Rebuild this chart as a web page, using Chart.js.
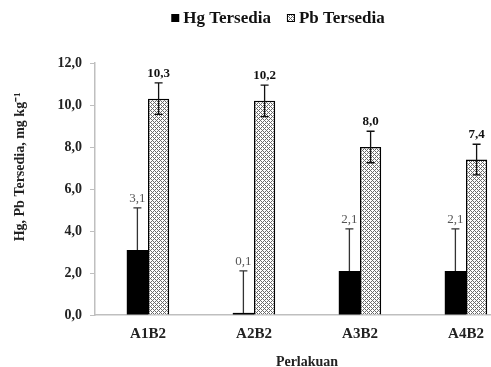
<!DOCTYPE html>
<html>
<head>
<meta charset="utf-8">
<script src="https://cdn.jsdelivr.net/npm/chart.js@4.4.0/dist/chart.umd.min.js"></script>
<style>
  html, body { margin: 0; padding: 0; background: #fff; overflow: hidden; }
  #wrap { width: 530px; height: 375px; }
</style>
</head>
<body>
<div id="wrap"><canvas id="hgPbChart" width="530" height="375"></canvas></div>
<script>
const categories = ['A1B2', 'A2B2', 'A3B2', 'A4B2'];
const seriesNames = ['Hg Tersedia', 'Pb Tersedia'];
const hgValues = [3.1, 0.1, 2.1, 2.1];
const pbValues = [10.3, 10.2, 8.0, 7.4];
const hgErrors = [2.0, 2.0, 2.0, 2.0];
const pbErrors = [0.75, 0.75, 0.75, 0.73];
const yTicks = [0, 2, 4, 6, 8, 10, 12];
const yTitle = 'Hg, Pb Tersedia, mg kg\u207B\u00B9';

const SERIF = '"Liberation Serif", "Times New Roman", serif';
const fmt = v => v.toFixed(1).replace('.', ',');

// crosshatch fill for the Pb bars
function makePattern() {
  const c = document.createElement('canvas');
  c.width = 4; c.height = 4;
  const p = c.getContext('2d');
  p.fillStyle = '#fff';
  p.fillRect(0, 0, 4, 4);
  p.fillStyle = '#6a6a6a';
  for (let x = 0; x < 4; x++) {
    for (let y = 0; y < 4; y++) {
      if ((x + y) % 4 === 0 || (x - y + 4) % 4 === 0) p.fillRect(x, y, 1, 1);
    }
  }
  return p.createPattern(c, 'repeat');
}
const pbPattern = makePattern();

// error bars (Hg upper only, Pb both ways) plus value labels
const errorBars = {
  id: 'errorBars',
  afterDatasetsDraw(chart) {
    const ctx = chart.ctx;
    const yScale = chart.scales.y;
    const sets = [
      { vals: hgValues, errs: hgErrors, both: false, font: '13px ' + SERIF, color: '#555' },
      { vals: pbValues, errs: pbErrors, both: true, font: 'bold 13px ' + SERIF, color: '#111' }
    ];
    sets.forEach((s, i) => {
      const meta = chart.getDatasetMeta(i);
      meta.data.forEach((bar, j) => {
        const x = bar.x;
        const top = yScale.getPixelForValue(s.vals[j] + s.errs[j]);
        const bottom = s.both ? yScale.getPixelForValue(s.vals[j] - s.errs[j]) : bar.y;
        ctx.save();
        ctx.strokeStyle = s.both ? '#111' : '#333';
        ctx.lineWidth = 1.3;
        ctx.beginPath();
        ctx.moveTo(x, bottom); ctx.lineTo(x, top);
        ctx.moveTo(x - 4, top); ctx.lineTo(x + 4, top);
        if (s.both) { ctx.moveTo(x - 4, bottom); ctx.lineTo(x + 4, bottom); }
        ctx.stroke();
        ctx.font = s.font;
        ctx.fillStyle = s.color;
        ctx.textAlign = 'center';
        ctx.textBaseline = 'bottom';
        ctx.fillText(fmt(s.vals[j]), x, top - 3);
        ctx.restore();
      });
    });
  }
};

// legend and y title, placed where the original has them
const extras = {
  id: 'extras',
  afterDraw(chart) {
    const ctx = chart.ctx;
    ctx.save();
    ctx.font = 'bold 17px ' + SERIF;
    ctx.textBaseline = 'middle';
    const box = 8, gap = 4, spacing = 16;
    const ds = chart.data.datasets;
    let total = 0;
    ds.forEach((d, i) => { total += box + gap + ctx.measureText(d.label).width + (i ? spacing : 0); });
    let x = 278 - total / 2;
    const y = 18;
    ds.forEach((d, i) => {
      ctx.fillStyle = d.backgroundColor;
      ctx.fillRect(x, y - box / 2, box, box);
      if (d.borderWidth) {
        ctx.strokeStyle = '#000';
        ctx.lineWidth = 1;
        ctx.strokeRect(x + 0.5, y - box / 2 + 0.5, box - 1, box - 1);
      }
      x += box + gap;
      ctx.fillStyle = '#111';
      ctx.fillText(d.label, x, y + 1);
      x += ctx.measureText(d.label).width + spacing;
    });

    ctx.translate(20, 167);
    ctx.rotate(-Math.PI / 2);
    ctx.font = 'bold 14px ' + SERIF;
    ctx.textAlign = 'center';
    ctx.fillStyle = '#222';
    ctx.fillText(yTitle, 0, 0);
    ctx.restore();
  }
};

const ctx = document.getElementById('hgPbChart').getContext('2d');
const hgPbChart = new Chart(ctx, {
  type: 'bar',
  data: {
    labels: categories,
    datasets: [{
      label: seriesNames[0],
      data: hgValues,
      backgroundColor: '#000',
      borderWidth: 0
    }, {
      label: seriesNames[1],
      data: pbValues,
      backgroundColor: pbPattern,
      borderColor: '#000',
      borderWidth: 1.5
    }]
  },
  options: {
    responsive: false,
    animation: false,
    devicePixelRatio: 1,
    categoryPercentage: 0.4,
    barPercentage: 1.0,
    layout: { padding: { top: 63, right: 11, left: 0, bottom: 0 } },
    plugins: {
      legend: { display: false },
      tooltip: { enabled: false }
    },
    scales: {
      x: {
        afterFit: s => { s.height = 60; },
        grid: { display: true, drawOnChartArea: false, drawTicks: false, color: '#bfbfbf' },
        border: { color: '#bfbfbf', width: 1.5 },
        ticks: { color: '#222', padding: 10, font: { family: SERIF, size: 15, weight: 'bold' } },
        title: {
          display: true, text: 'Perlakuan', color: '#222', padding: { top: 4, bottom: 4 },
          font: { family: SERIF, size: 14, weight: 'bold' }
        }
      },
      y: {
        min: yTicks[0],
        max: yTicks[yTicks.length - 1],
        afterFit: s => { s.width = 95; },
        afterBuildTicks: s => { s.ticks = yTicks.map(v => ({ value: v })); },
        grid: { display: true, drawOnChartArea: false, drawTicks: true, tickLength: 5, color: '#bfbfbf' },
        border: { color: '#bfbfbf', width: 1.5 },
        ticks: {
          color: '#222', padding: 8,
          font: { family: SERIF, size: 14, weight: 'bold' },
          callback: v => fmt(v)
        },
        title: { display: false }
      }
    }
  },
  plugins: [errorBars, extras]
});
</script>
</body>
</html>
